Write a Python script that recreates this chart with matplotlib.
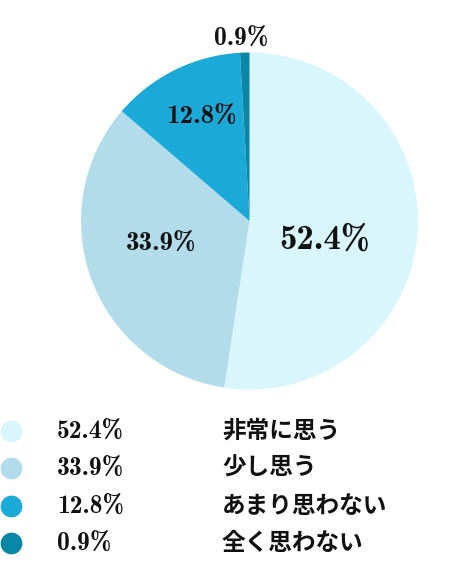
import matplotlib
matplotlib.use("Agg")
import matplotlib.pyplot as plt
import numpy as np

values = [52.4, 33.9, 12.8, 0.9]
pct_labels = ["52.4%", "33.9%", "12.8%", "0.9%"]
answers = ["非常に思う", "少し思う", "あまり思わない", "全く思わない"]
colors = ["#d9f6fd", "#b2dcea", "#1ba9d8", "#0a87a7"]

# label placement on the pie: (distance in radii, angle in degrees, font size)
label_pos = [(0.46, -14, 25), (0.54, 194.6, 19.5), (0.68, 115, 19.5), (1.08, 92.5, 18.5)]

NUM_FONT = "cmb10"
JP_FONT = ["Noto Sans CJK JP", "DejaVu Sans"]

W, H = 473, 561
fig = plt.figure(figsize=(W / 100, H / 100), dpi=100)

# pie: centre (249.5, 221) px, radius 168.5 px
R = 168.5
cx, cy = 249.5, 221
ax = fig.add_axes([(cx - R) / W, (H - cy - R) / H, 2 * R / W, 2 * R / H])
ax.pie(values, colors=colors, startangle=90, counterclock=False,
       wedgeprops=dict(linewidth=0))
ax.set_xlim(-1, 1)
ax.set_ylim(-1, 1)
ax.set_aspect("equal")
ax.axis("off")

for txt, (r, ang, fs) in zip(pct_labels, label_pos):
    a = np.deg2rad(ang)
    ax.text(r * np.cos(a), r * np.sin(a), txt, family=NUM_FONT,
            ha="center", va="center", fontsize=fs, color="#111111", clip_on=False)

# legend drawn in pixel coordinates
lg = fig.add_axes([0, 0, 1, 1], zorder=-1)
lg.set_xlim(0, W)
lg.set_ylim(H, 0)
lg.axis("off")
rows_y = [431, 468, 506, 543]
for y, c, p, a in zip(rows_y, colors, pct_labels, answers):
    lg.scatter([11], [y], s=245, color=c, linewidths=0, clip_on=False)
    lg.text(57, y + 1, p, family=NUM_FONT, ha="left", va="center",
            fontsize=18.5, color="#111111")
    lg.text(222, y, a, ha="left", va="center", fontsize=17, color="#111111",
            family=JP_FONT, fontweight="bold")

fig.savefig("out.png", dpi=100)
